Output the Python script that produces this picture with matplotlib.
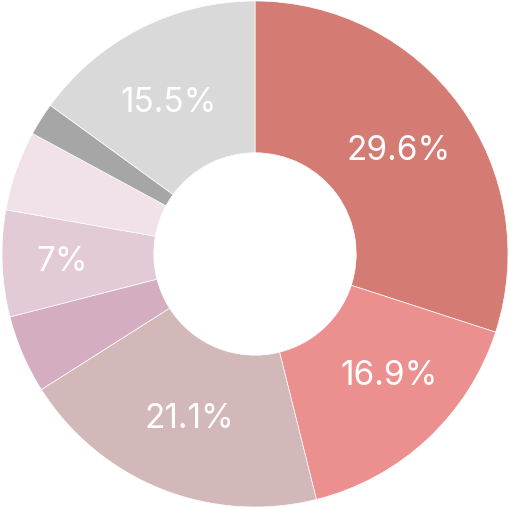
import matplotlib
matplotlib.use("Agg")
import matplotlib.pyplot as plt

# slice shares (clockwise from 12 o'clock) and their printed labels
shares = [30.0, 16.1, 19.9, 5.0, 6.8, 5.1, 2.1, 15.0]
labels = ["29.6%", "16.9%", "21.1%", "", "7%", "", "", "15.5%"]
colors = ["#d47c74", "#eb908e", "#d2b8b8", "#d4aec0",
          "#e2cad6", "#f0e2e8", "#a6a6a6", "#d9d9d9"]

fig = plt.figure(figsize=(5.1, 5.1), dpi=100)
ax = fig.add_axes([0, 0, 1, 1])

wedges, texts = ax.pie(
    shares, labels=labels, colors=colors, startangle=90, counterclock=False,
    labeldistance=0.70, radius=1.0,
    wedgeprops=dict(width=0.6, edgecolor="white", linewidth=0.5),
    textprops=dict(color="white", fontsize=24, family="Inter",
                   ha="center", va="center"),
)
for t in texts:
    t.set_horizontalalignment("center")
# a few labels sit a little off the slice midline
x, y = texts[4].get_position()
texts[4].set_position((x * 1.09, y * 1.09))
texts[1].set_position((0.53, -0.48))
texts[7].set_position((-0.34, 0.60))

lim = 255 / 253
ax.set_xlim(-lim, lim)
ax.set_ylim(-lim, lim)
ax.set_aspect("equal")
ax.axis("off")

fig.savefig("out.png", dpi=100, facecolor="white")
